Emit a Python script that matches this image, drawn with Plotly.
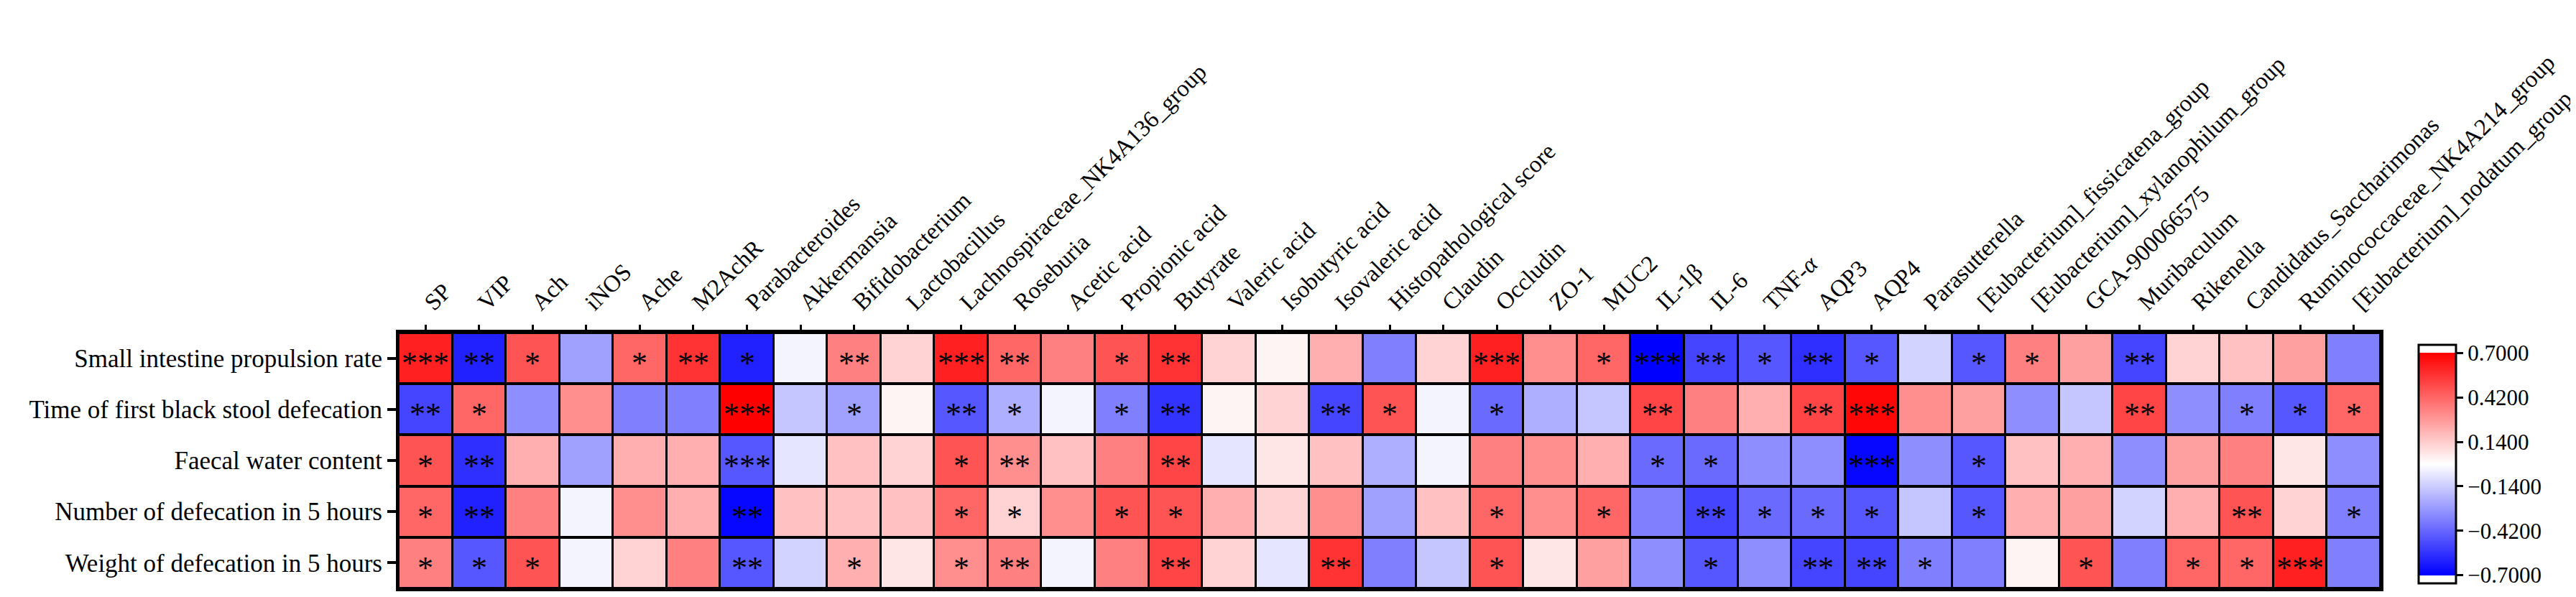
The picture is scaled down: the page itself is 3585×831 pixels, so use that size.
import plotly.graph_objects as go

rows = [
    "Small intestine propulsion rate",
    "Time of first black stool defecation",
    "Faecal water content",
    "Number of defecation in 5 hours",
    "Weight of defecation in 5 hours",
]

cols = [
    "SP", "VIP", "Ach", "iNOS", "Ache", "M2AchR", "Parabacteroides", "Akkermansia",
    "Bifidobacterium", "Lactobacillus", "Lachnospiraceae_NK4A136_group", "Roseburia",
    "Acetic acid", "Propionic acid", "Butyrate", "Valeric acid", "Isobutyric acid",
    "Isovaleric acid", "Histopathological score", "Claudin", "Occludin", "ZO-1", "MUC2",
    "IL-1β", "IL-6", "TNF-α", "AQP3", "AQP4", "Parasutterella",
    "[Eubacterium]_fissicatena_group", "[Eubacterium]_xylanophilum_group",
    "GCA-900066575", "Muribaculum", "Rikenella", "Candidatus_Saccharimonas",
    "Ruminococcaceae_NK4A214_group", "[Eubacterium]_nodatum_group",
]

col_labels = [c if c != "TNF-α" else "TNF-<i>α</i>" for c in cols]

r_propulsion = [0.61, -0.61, 0.47, -0.26, 0.42, 0.56, -0.61, -0.03, 0.35, 0.12, 0.61, 0.42,
                0.35, 0.47, 0.56, 0.12, 0.03, 0.22, -0.35, 0.12, 0.61, 0.31, 0.42, -0.70,
                -0.51, -0.46, -0.57, -0.46, -0.12, -0.46, 0.35, 0.26, -0.51, 0.12, 0.17,
                0.26, -0.35]
r_black_stool = [-0.51, 0.42, -0.31, 0.31, -0.35, -0.35, 0.70, -0.16, -0.26, 0.03, -0.46, -0.22,
                 -0.03, -0.35, -0.56, 0.03, 0.12, -0.51, 0.47, -0.03, -0.41, -0.22, -0.16, 0.51,
                 0.35, 0.22, 0.51, 0.68, 0.31, 0.26, -0.31, -0.16, 0.51, -0.31, -0.35,
                 -0.46, 0.42]
r_water = [0.47, -0.57, 0.22, -0.26, 0.22, 0.22, -0.46, -0.07, 0.17, 0.12, 0.47, 0.31,
           0.17, 0.35, 0.51, -0.07, 0.07, 0.17, -0.22, -0.03, 0.35, 0.31, 0.22, -0.41,
           -0.41, -0.31, -0.31, -0.68, -0.31, -0.46, 0.17, 0.22, -0.31, 0.26, 0.35,
           0.07, -0.31]
r_number = [0.42, -0.61, 0.35, -0.03, 0.31, 0.22, -0.68, 0.17, 0.17, 0.17, 0.42, 0.12,
            0.31, 0.47, 0.47, 0.22, 0.12, 0.31, -0.26, 0.17, 0.42, 0.31, 0.42, -0.35,
            -0.51, -0.41, -0.41, -0.46, -0.16, -0.46, 0.22, 0.26, -0.12, 0.22, 0.47,
            0.12, -0.35]
r_weight = [0.35, -0.46, 0.47, -0.03, 0.12, 0.35, -0.46, -0.12, 0.22, 0.07, 0.31, 0.35,
            -0.03, 0.35, 0.51, 0.12, -0.07, 0.56, -0.35, -0.16, 0.47, 0.07, 0.26, -0.31,
            -0.46, -0.31, -0.51, -0.51, -0.35, -0.35, 0.03, 0.47, -0.35, 0.42, 0.42,
            0.61, -0.35]

s_propulsion = ["***", "**", "*", "", "*", "**", "*", "", "**", "", "***", "**",
                "", "*", "**", "", "", "", "", "", "***", "", "*", "***",
                "**", "*", "**", "*", "", "*", "*", "", "**", "", "",
                "", ""]
s_black_stool = ["**", "*", "", "", "", "", "***", "", "*", "", "**", "*",
                 "", "*", "**", "", "", "**", "*", "", "*", "", "", "**",
                 "", "", "**", "***", "", "", "", "", "**", "", "*",
                 "*", "*"]
s_water = ["*", "**", "", "", "", "", "***", "", "", "", "*", "**",
           "", "", "**", "", "", "", "", "", "", "", "", "*",
           "*", "", "", "***", "", "*", "", "", "", "", "",
           "", ""]
s_number = ["*", "**", "", "", "", "", "**", "", "", "", "*", "*",
            "", "*", "*", "", "", "", "", "", "*", "", "*", "",
            "**", "*", "*", "*", "", "*", "", "", "", "", "**",
            "", "*"]
s_weight = ["*", "*", "*", "", "", "", "**", "", "*", "", "*", "**",
            "", "", "**", "", "", "**", "", "", "*", "", "", "",
            "*", "", "**", "**", "*", "", "", "*", "", "*", "*",
            "***", ""]

z = [r_propulsion, r_black_stool, r_water, r_number, r_weight]
stars = [s_propulsion, s_black_stool, s_water, s_number, s_weight]

cb_ticks = [0.7, 0.42, 0.14, -0.14, -0.42, -0.7]

ZMAX = 0.752
lo = (-0.7 + ZMAX) / (2 * ZMAX)
hi = (0.7 + ZMAX) / (2 * ZMAX)
colorscale = [
    [0.0, "rgb(255,255,255)"],
    [lo - 0.0005, "rgb(255,255,255)"],
    [lo, "rgb(0,0,255)"],
    [0.5, "rgb(255,255,255)"],
    [hi, "rgb(255,0,0)"],
    [hi + 0.0005, "rgb(255,255,255)"],
    [1.0, "rgb(255,255,255)"],
]

FONT = "Liberation Serif"

fig = go.Figure()
fig.add_trace(go.Heatmap(
    z=z, x=cols, y=rows,
    zmin=-ZMAX, zmax=ZMAX,
    colorscale=colorscale,
    xgap=3, ygap=4,
    hoverongaps=False,
    colorbar=dict(
        x=1.0192, xanchor="left", xpad=0,
        y=0.486, yanchor="middle", ypad=0,
        len=332 / 356, lenmode="fraction",
        thickness=52,
        outlinewidth=3, outlinecolor="black",
        tickmode="array", tickvals=cb_ticks,
        tickformat=".4f",
        ticks="outside", ticklen=9, tickwidth=3, tickcolor="black",
        tickfont=dict(family=FONT, size=31, color="black"),
    ),
))

annotations = []
for i, r in enumerate(rows):
    for j, c in enumerate(cols):
        s = stars[i][j]
        if s:
            annotations.append(dict(
                x=c, y=r, xref="x", yref="y", text=s, showarrow=False,
                font=dict(family=FONT, size=44, color="black"),
                yshift=-7,
            ))

fig.update_layout(
    width=3585, height=831,
    margin=dict(l=547, r=280, t=455, b=20),
    paper_bgcolor="white",
    plot_bgcolor="black",
    font=dict(family=FONT, color="black"),
    annotations=annotations,
    xaxis=dict(
        side="top", tickangle=-45,
        tickmode="array", tickvals=cols, ticktext=col_labels,
        tickfont=dict(family=FONT, size=33, color="black"),
        ticks="outside", ticklen=7, tickwidth=2.5, tickcolor="black",
        showline=True, linewidth=4, linecolor="black", mirror=True,
        showgrid=False, zeroline=False, automargin=False,
    ),
    yaxis=dict(
        autorange="reversed",
        tickfont=dict(family=FONT, size=35, color="black"),
        ticks="outside", ticklen=12, tickwidth=4, tickcolor="black",
        showline=True, linewidth=4, linecolor="black", mirror=True,
        showgrid=False, zeroline=False, automargin=False,
    ),
)

fig.write_html("out.html")
